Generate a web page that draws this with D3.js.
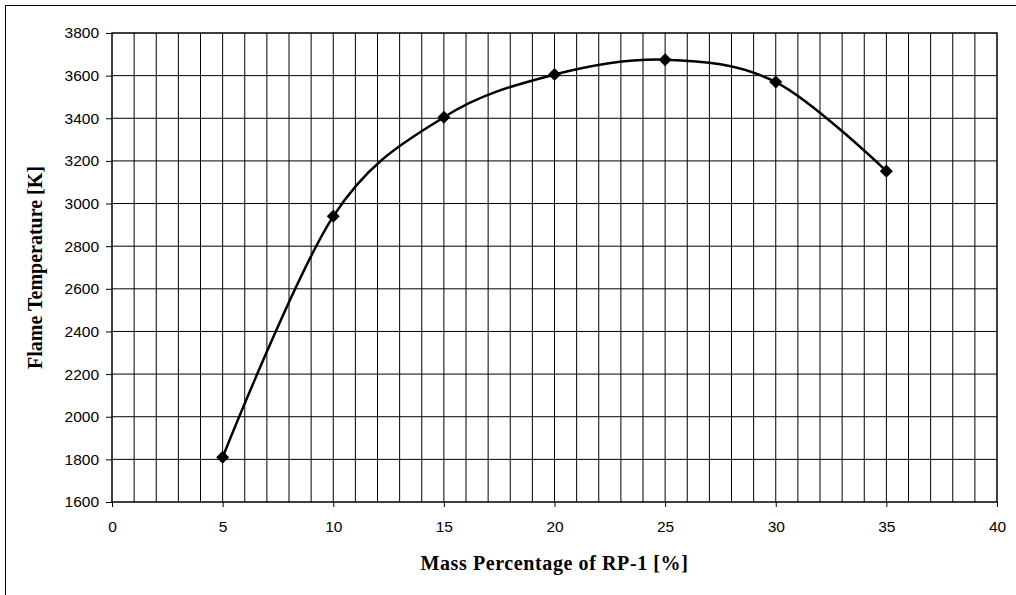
<!DOCTYPE html>
<html>
<head>
<meta charset="utf-8">
<script src="https://cdn.jsdelivr.net/npm/d3@7"></script>
<style>
  body { margin: 0; background: #fff; }
  .tick text { font-family: "Liberation Sans", Arial, sans-serif; font-size: 15.5px; fill: #000; }
  .title { font-family: "Liberation Serif", "Times New Roman", serif; font-weight: bold; font-size: 20px; }
</style>
</head>
<body>
<div id="chart"></div>
<script>
const massPct = [5, 10, 15, 20, 25, 30, 35];
const flameTemp = [1810, 2940, 3405, 3605, 3675, 3570, 3152];
const xTicks = [0, 5, 10, 15, 20, 25, 30, 35, 40];
const yTicks = [1600, 1800, 2000, 2200, 2400, 2600, 2800, 3000, 3200, 3400, 3600, 3800];

const W = 1016, H = 595;
const margin = { top: 33, right: 19, bottom: 93, left: 112 };
const width = W - margin.left - margin.right;
const height = H - margin.top - margin.bottom;

const svg = d3.select("#chart").append("svg")
  .attr("width", W)
  .attr("height", H);

// outer frame (runs off the right and bottom edge like the original)
svg.append("rect")
  .attr("x", 5.5).attr("y", 5.5)
  .attr("width", W + 10).attr("height", H + 10)
  .attr("fill", "none").attr("stroke", "#000").attr("stroke-width", 1);

const g = svg.append("g")
  .attr("transform", `translate(${margin.left}, ${margin.top})`);

const x = d3.scaleLinear().domain([0, 40]).range([0, width]);
const y = d3.scaleLinear().domain([1600, 3800]).range([height, 0]);

// grid
g.append("g").selectAll("line")
  .data(d3.range(1, 40))
  .enter().append("line")
  .attr("x1", d => x(d)).attr("x2", d => x(d))
  .attr("y1", 0).attr("y2", height)
  .attr("stroke", "#000").attr("stroke-width", 1);

g.append("g").selectAll("line")
  .data(yTicks.slice(1, -1))
  .enter().append("line")
  .attr("x1", 0).attr("x2", width)
  .attr("y1", d => y(d)).attr("y2", d => y(d))
  .attr("stroke", "#000").attr("stroke-width", 1);

g.append("rect")
  .attr("width", width).attr("height", height)
  .attr("fill", "none").attr("stroke", "#000").attr("stroke-width", 1.5);

// axes
const xAxis = g.append("g")
  .attr("transform", `translate(0, ${height})`)
  .call(d3.axisBottom(x).tickValues(xTicks).tickSize(5).tickPadding(14).tickFormat(d3.format("d")));
xAxis.select(".domain").remove();

const yAxis = g.append("g")
  .call(d3.axisLeft(y).tickValues(yTicks).tickSize(6).tickPadding(7).tickFormat(d3.format("d")));
yAxis.select(".domain").remove();

// line
const line = d3.line()
  .x((d, i) => x(massPct[i]))
  .y(d => y(d))
  .curve(d3.curveCatmullRom.alpha(0));

g.append("path")
  .datum(flameTemp)
  .attr("fill", "none")
  .attr("stroke", "#000")
  .attr("stroke-width", 2.5)
  .attr("d", line);

g.selectAll(".pt")
  .data(flameTemp)
  .enter().append("path")
  .attr("class", "pt")
  .attr("d", d3.symbol(d3.symbolSquare, 85))
  .attr("transform", (d, i) => `translate(${x(massPct[i])}, ${y(d)}) rotate(45)`)
  .attr("fill", "#000");

// titles
g.append("text")
  .attr("class", "title")
  .attr("x", width / 2)
  .attr("y", height + 68)
  .attr("text-anchor", "middle")
  .style("letter-spacing", "0.6px")
  .text("Mass Percentage of RP-1 [%]");

g.append("text")
  .attr("class", "title")
  .attr("transform", "rotate(-90)")
  .attr("x", -height / 2)
  .attr("y", -margin.left + 41.5)
  .attr("text-anchor", "middle")
  .text("Flame Temperature [K]");
</script>
</body>
</html>
